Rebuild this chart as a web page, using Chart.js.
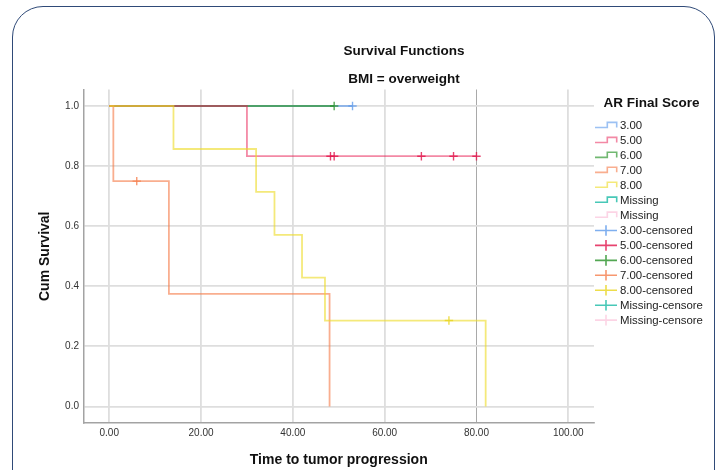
<!DOCTYPE html>
<html>
<head>
<meta charset="utf-8">
<script src="https://cdn.jsdelivr.net/npm/chart.js@4.4.1/dist/chart.umd.min.js"></script>
<style>
html, body { margin: 0; padding: 0; background: #fff; overflow: hidden; }
#wrap { position: relative; width: 722px; height: 470px; }
#frame { position: absolute; left: 12px; top: 6px; width: 703px; height: 530px;
         border: 1.5px solid #2f4a78; border-radius: 31px; box-sizing: border-box; }
canvas { position: absolute; left: 0; top: 0; }
</style>
</head>
<body>
<div id="wrap">
  <div id="frame"></div>
  <canvas id="c" width="722" height="470"></canvas>
</div>
<script>
// ---- text ----
const chartTitle = 'Survival Functions';
const chartSubtitle = 'BMI = overweight';
const xAxisTitle = 'Time to tumor progression';
const yAxisTitle = 'Cum Survival';
const legendTitle = 'AR Final Score';

// ---- axes ----
const xTickValues = [0, 20, 40, 60, 80, 100];
const xTickLabels = ['0.00', '20.00', '40.00', '60.00', '80.00', '100.00'];
const yTickValues = [0, 0.2, 0.4, 0.6, 0.8, 1.0];
const yTickLabels = ['0.0', '0.2', '0.4', '0.6', '0.8', '1.0'];

// ---- Kaplan-Meier steps per AR Final Score group (time, cumulative survival) ----
const groupNames = ['3.00', '5.00', '6.00', '7.00', '8.00', 'Missing', 'Missing'];

const g3Times = [0, 53];
const g3Surv = [1.0, 1.0];
const g3CensorTimes = [53];
const g3CensorSurv = [1.0];

const g5Times = [0, 30, 80];
const g5Surv = [1.0, 0.833, 0.833];
const g5CensorTimes = [48.2, 49, 68, 75, 80];
const g5CensorSurv = [0.833, 0.833, 0.833, 0.833, 0.833];

const g6Times = [0, 49];
const g6Surv = [1.0, 1.0];
const g6CensorTimes = [49];
const g6CensorSurv = [1.0];

const g7Times = [0, 0.9, 13, 48];
const g7Surv = [1.0, 0.75, 0.375, 0.0];
const g7CensorTimes = [6];
const g7CensorSurv = [0.75];

const g8Times = [0, 14, 32, 36, 42, 47, 82];
const g8Surv = [1.0, 0.857, 0.714, 0.571, 0.429, 0.286, 0.0];
const g8CensorTimes = [74];
const g8CensorSurv = [0.286];

const gMissTimes = [];
const gMissSurv = [];
const gMiss2Times = [];
const gMiss2Surv = [];

const curveTimes = [g3Times, g5Times, g6Times, g7Times, g8Times, gMissTimes, gMiss2Times];
const curveSurv = [g3Surv, g5Surv, g6Surv, g7Surv, g8Surv, gMissSurv, gMiss2Surv];
const censorTimes = [g3CensorTimes, g5CensorTimes, g6CensorTimes, g7CensorTimes, g8CensorTimes, [], []];
const censorSurv = [g3CensorSurv, g5CensorSurv, g6CensorSurv, g7CensorSurv, g8CensorSurv, [], []];

// ---- styling ----
const groupColors = [
  'rgba(95,155,235,0.62)',
  'rgba(232,28,82,0.52)',
  'rgba(45,150,45,0.68)',
  'rgba(245,125,75,0.62)',
  'rgba(238,220,40,0.62)',
  'rgba(40,190,170,0.85)',
  'rgba(252,205,225,0.85)'
];
const censorColors = [
  'rgba(95,155,235,0.8)',
  'rgba(225,20,75,0.8)',
  'rgba(40,145,40,0.8)',
  'rgba(245,125,75,0.8)',
  'rgba(232,212,30,0.8)',
  'rgba(40,190,170,0.85)',
  'rgba(252,205,225,0.85)'
];
// stacking of the curves where they overlap (higher = painted later)
const drawLayer = [0, 2, 1, 3, 4, 5, 6];
const FONT = "'Liberation Sans', Arial, sans-serif";

const toPoints = (xs, ys) => xs.map((x, i) => ({ x: x, y: ys[i] }));

const datasets = [];
groupNames.forEach((name, i) => {
  datasets.push({
    label: name,
    data: toPoints(curveTimes[i], curveSurv[i]),
    stepped: 'before',
    borderColor: groupColors[i],
    backgroundColor: groupColors[i],
    borderWidth: 1.8,
    pointRadius: 0,
    fill: false,
    tension: 0,
    order: 100 - drawLayer[i]
  });
});
groupNames.forEach((name, i) => {
  datasets.push({
    label: name + '-censored',
    data: toPoints(censorTimes[i], censorSurv[i]),
    showLine: false,
    pointStyle: 'cross',
    pointRadius: 4.2,
    pointBorderWidth: 1.4,
    borderColor: censorColors[i],
    backgroundColor: censorColors[i],
    censorMark: true,
    order: 50 - i
  });
});

// legend labels as printed (long names are clipped by the output panel)
const legendLabels = ['3.00', '5.00', '6.00', '7.00', '8.00', 'Missing', 'Missing',
  '3.00-censored', '5.00-censored', '6.00-censored', '7.00-censored', '8.00-censored',
  'Missing-censore', 'Missing-censore'];

const titlesAndLegend = {
  id: 'titlesAndLegend',
  afterDraw(chart) {
    const ctx = chart.ctx;
    const area = chart.chartArea;
    ctx.save();
    ctx.fillStyle = '#111';
    ctx.textAlign = 'center';
    ctx.textBaseline = 'middle';
    ctx.font = 'bold 13.5px ' + FONT;
    ctx.fillText(chartTitle, 404, 51);
    ctx.fillText(chartSubtitle, 404, 79.5);

    // legend
    const lx = area.right + 1;
    ctx.textAlign = 'left';
    ctx.font = 'bold 13.5px ' + FONT;
    ctx.fillText(legendTitle, lx + 8.5, 103.5);
    ctx.font = '11.4px ' + FONT;
    chart.data.datasets.forEach((ds, i) => {
      const y = 125.8 + i * 14.95;
      ctx.strokeStyle = ds.borderColor;
      ctx.lineWidth = 1.6;
      ctx.beginPath();
      if (ds.censorMark) {
        ctx.moveTo(lx, y);
        ctx.lineTo(lx + 22, y);
        ctx.moveTo(lx + 11, y - 5.3);
        ctx.lineTo(lx + 11, y + 5.3);
      } else {
        ctx.moveTo(lx, y + 1.7);
        ctx.lineTo(lx + 12.3, y + 1.7);
        ctx.lineTo(lx + 12.3, y - 3.4);
        ctx.lineTo(lx + 21.7, y - 3.4);
        ctx.lineTo(lx + 21.7, y + 1.7);
      }
      ctx.stroke();
      ctx.fillStyle = '#222';
      ctx.fillText(legendLabels[i], lx + 25, y + 0.5);
    });
    ctx.restore();
  }
};

new Chart(document.getElementById('c'), {
  type: 'line',
  data: { datasets: datasets },
  plugins: [titlesAndLegend],
  options: {
    responsive: false,
    animation: false,
    layout: { padding: { left: 0, right: 128, top: 89.5, bottom: 0 } },
    plugins: {
      legend: { display: false },
      tooltip: { enabled: false },
      title: { display: false }
    },
    scales: {
      x: {
        type: 'linear',
        min: -5.6,
        max: 105.6,
        afterFit(s) { s.height = 47; },
        afterBuildTicks(s) { s.ticks = xTickValues.map(v => ({ value: v })); },
        ticks: {
          callback: (v, i) => xTickLabels[i],
          font: { size: 10, family: FONT },
          color: '#333',
          padding: 4,
          maxRotation: 0,
          autoSkip: false
        },
        grid: {
          drawTicks: false,
          color: c => (c.tick && c.tick.value === 80) ? '#a9a9a9' : '#dedede',
          lineWidth: c => (c.tick && c.tick.value === 80) ? 1 : 1.8
        },
        border: { color: '#a3a3a3', width: 1.5 },
        title: {
          display: true,
          text: xAxisTitle,
          color: '#111',
          font: { size: 14, weight: 'bold', family: FONT },
          padding: { top: 0, bottom: 1.6 }
        }
      },
      y: {
        type: 'linear',
        min: -0.055,
        max: 1.055,
        afterFit(s) { s.width = 83.5; },
        afterBuildTicks(s) { s.ticks = yTickValues.map(v => ({ value: v })); },
        ticks: {
          callback: (v, i) => yTickLabels[i],
          font: { size: 10, family: FONT },
          color: '#333',
          padding: 4.5
        },
        grid: {
          drawTicks: false,
          color: '#dedede',
          lineWidth: 1.8
        },
        border: { color: '#a3a3a3', width: 1.5 },
        title: {
          display: true,
          text: yAxisTitle,
          color: '#111',
          font: { size: 14, weight: 'bold', family: FONT },
          padding: { top: 36.6, bottom: 0 }
        }
      }
    }
  }
});
</script>
</body>
</html>
